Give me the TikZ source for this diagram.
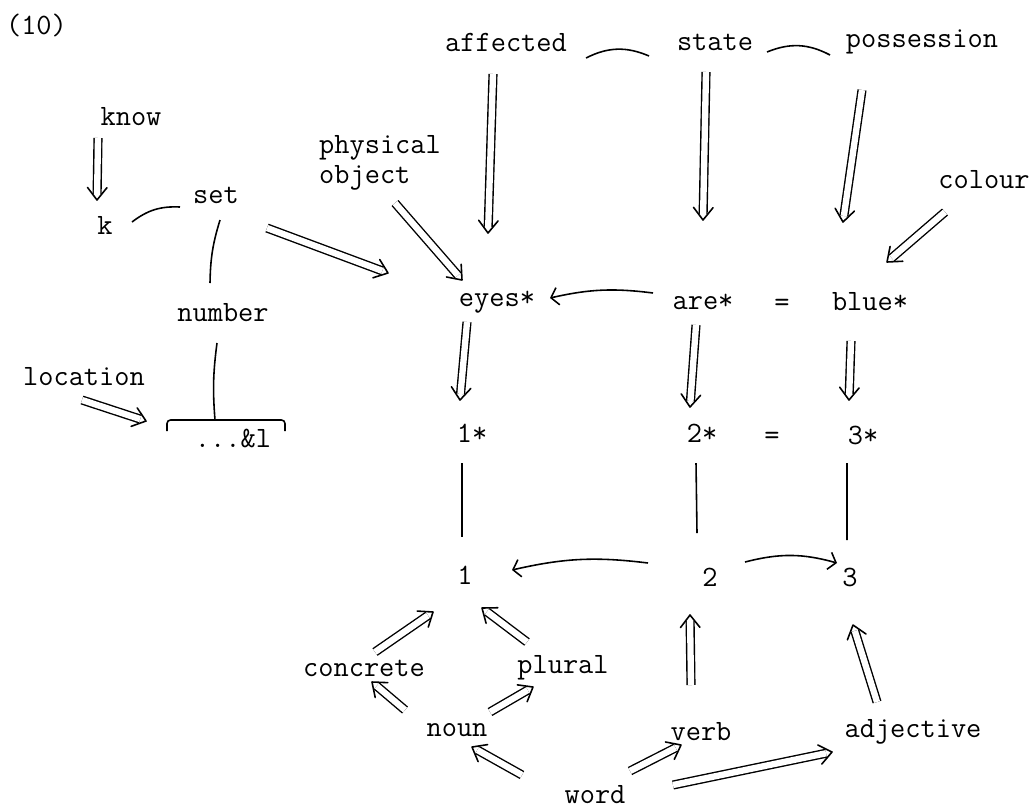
\documentclass[tikz,border=0pt]{standalone}
\usepackage{fontspec}
\usetikzlibrary{arrows.meta,calc}

% double line with an open V head, from #1 to #2
\newcommand{\isarrow}[2]{%
    \draw[isa line] #1 -- #2;
    \draw[isa head] ($#2!9pt!38:#1$) -- #2 -- ($#2!9pt!-38:#1$);
}

\begin{document}
\begin{tikzpicture}[
    term/.style={
        font=\ttfamily\fontsize{16.8}{17}\selectfont,
        inner sep=1pt,
        align=left
    },
    isa line/.style={double, double distance=3.6pt, line width=0.8pt, shorten >=3.5pt},
    isa head/.style={line width=0.9pt, line join=round, line cap=round},
    link/.style={line width=0.9pt},
    rel/.style={link, -{Straight Barb[length=4pt,width=10pt]}}
]

\useasboundingbox (0,0) rectangle (20.68,-16.22);

% === TOP ROW ===
\node[term] (label) at (0.73,-0.50) {(10)};
\node[term] (affected) at (10.12,-0.84) {affected};
\node[term] (state) at (14.30,-0.84) {state};
\node[term] (possession) at (18.44,-0.84) {possession};

% === LEFT PART ===
\node[term] (know) at (2.62,-2.34) {know};
\node[term] (k) at (2.10,-4.50) {k};
\node[term] (set) at (4.32,-3.90) {set};
\node[term] (number) at (4.46,-6.26) {number};
\node[term] (location) at (1.68,-7.54) {location};
\node[term] (dots) at (4.66,-8.76) {...\&l};
\node[term] (physical) at (7.60,-3.26) {physical\\object};
\node[term] (colour) at (19.68,-3.60) {colour};

% === STARRED ROWS ===
\node[term] (eyes) at (9.94,-6.04) {eyes*};
\node[term] (are) at (14.06,-6.04) {are*};
\node[term] (eqab) at (15.64,-6.10) {=};
\node[term] (blue) at (17.40,-6.04) {blue*};

\node[term] (onestar) at (9.44,-8.66) {1*};
\node[term] (twostar) at (14.04,-8.66) {2*};
\node[term] (eqtwo) at (15.44,-8.76) {=};
\node[term] (threestar) at (17.26,-8.70) {3*};

% === NUMBERS ===
\node[term] (one) at (9.30,-11.50) {1};
\node[term] (two) at (14.20,-11.54) {2};
\node[term] (three) at (17.00,-11.54) {3};

% === WORD CLASSES ===
\node[term] (concrete) at (7.28,-13.36) {concrete};
\node[term] (plural) at (11.26,-13.36) {plural};
\node[term] (noun) at (9.14,-14.60) {noun};
\node[term] (verb) at (14.02,-14.64) {verb};
\node[term] (adjective) at (18.26,-14.64) {adjective};
\node[term] (word) at (11.90,-15.90) {word};

% === LINKS ===
\draw[link] ([shift={(1.60,-0.32)}]affected.center) to[bend left=25] ([shift={(-1.32,-0.28)}]state.center);
\draw[link] ([shift={(1.04,-0.20)}]state.center) to[bend left=25] ([shift={(-1.84,-0.26)}]possession.center);
\draw[link] ([shift={(0.54,0.06)}]k.center) to[bend left=20] ([shift={(-0.72,-0.24)}]set.center);
\draw[link] ([shift={(0.08,-0.50)}]set.center) to[bend right=8] ([shift={(-0.26,0.60)}]number.center);
\draw[link] ([shift={(-0.12,-0.60)}]number.center) to[bend right=6] ([shift={(-0.36,0.36)}]dots.center);
\draw[link, rounded corners=2pt] ([shift={(-1.32,0.14)}]dots.center) -- ([shift={(-1.32,0.36)}]dots.center)
    -- ([shift={(1.04,0.36)}]dots.center) -- ([shift={(1.04,0.14)}]dots.center);

% starred to plain
\draw[link] ([shift={(-0.20,-0.60)}]onestar.center) -- ([shift={(-0.06,0.76)}]one.center);
\draw[link] ([shift={(-0.12,-0.60)}]twostar.center) -- ([shift={(-0.26,0.88)}]two.center);
\draw[link] ([shift={(-0.32,-0.56)}]threestar.center) -- ([shift={(-0.06,0.74)}]three.center);

% === SINGLE ARROWS ===
\draw[rel] ([shift={(-1.00,0.18)}]are.center) to[bend right=10] ([shift={(1.06,0.08)}]eyes.center);
\draw[rel] ([shift={(-1.24,0.28)}]two.center) to[bend right=10] ([shift={(0.94,0.10)}]one.center);
\draw[rel] ([shift={(0.70,0.30)}]two.center) to[bend left=15] ([shift={(-0.26,0.28)}]three.center);

% === DOUBLE ARROWS ===
\isarrow{([shift={(-0.26,-0.64)}]affected.center)}{([shift={(-0.18,1.38)}]eyes.center)}
\isarrow{([shift={(-0.18,-0.60)}]state.center)}{([shift={(0,1.64)}]are.center)}
\isarrow{([shift={(-1.20,-0.96)}]possession.center)}{([shift={(-0.54,1.60)}]blue.center)}
\isarrow{([shift={(-0.78,-0.64)}]colour.center)}{([shift={(0.34,0.80)}]blue.center)}
\isarrow{([shift={(0.30,-0.80)}]physical.center)}{([shift={(-0.70,0.44)}]eyes.center)}
\isarrow{([shift={(1.02,-0.66)}]set.center)}{([shift={(-2.18,0.58)}]eyes.center)}
\isarrow{([shift={(-0.66,-0.42)}]know.center)}{([shift={(-0.16,0.50)}]k.center)}
\isarrow{([shift={(-0.04,-0.46)}]location.center)}{([shift={(-1.74,0.34)}]dots.center)}

\isarrow{([shift={(-0.60,-0.40)}]eyes.center)}{([shift={(-0.24,0.66)}]onestar.center)}
\isarrow{([shift={(-0.14,-0.46)}]are.center)}{([shift={(-0.24,0.52)}]twostar.center)}
\isarrow{([shift={(-0.38,-0.78)}]blue.center)}{([shift={(-0.28,0.70)}]threestar.center)}

\isarrow{([shift={(0.22,0.32)}]concrete.center)}{([shift={(-0.64,-0.74)}]one.center)}
\isarrow{([shift={(-0.72,0.52)}]plural.center)}{([shift={(0.34,-0.66)}]one.center)}
\isarrow{([shift={(-1.04,0.40)}]noun.center)}{([shift={(0.16,-0.28)}]concrete.center)}
\isarrow{([shift={(0.66,0.36)}]noun.center)}{([shift={(-0.60,-0.38)}]plural.center)}
\isarrow{([shift={(-0.20,0.94)}]verb.center)}{([shift={(-0.40,-0.76)}]two.center)}
\isarrow{([shift={(-0.72,0.60)}]adjective.center)}{([shift={(0.06,-0.96)}]three.center)}
\isarrow{([shift={(-1.46,0.40)}]word.center)}{([shift={(0.30,-0.34)}]noun.center)}
\isarrow{([shift={(0.70,0.48)}]word.center)}{([shift={(-0.40,-0.26)}]verb.center)}
\isarrow{([shift={(1.56,0.20)}]word.center)}{([shift={(-1.62,-0.40)}]adjective.center)}

\end{tikzpicture}
\end{document}
